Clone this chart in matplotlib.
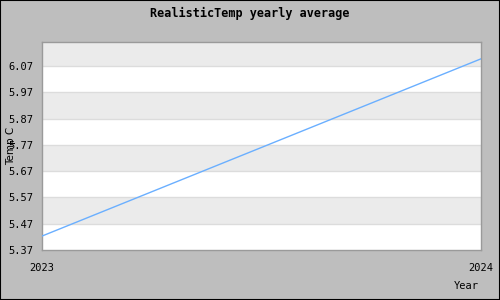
import matplotlib
matplotlib.use("Agg")
import matplotlib.pyplot as plt
from matplotlib.patches import Rectangle

years = [2023, 2024]
temps = [5.423, 6.097]
yticks = [5.37, 5.47, 5.57, 5.67, 5.77, 5.87, 5.97, 6.07]
title = "RealisticTemp yearly average"

W, H = 500, 300
fig = plt.figure(figsize=(5, 3), dpi=100, facecolor="#bebebe")
fig.patches.append(Rectangle((0, 0), 1, 1, transform=fig.transFigure,
                             fill=False, edgecolor="black", linewidth=1.5))

left, right, top, bottom = 42, 481, 42, 250
ax = fig.add_axes([left / W, 1 - bottom / H, (right - left) / W, (bottom - top) / H])
ax.set_facecolor("white")
ymin, ymax = 5.37, 6.161
ax.set_xlim(years[0], years[1])
ax.set_ylim(ymin, ymax)

# alternating bands
edges = yticks + [ymax]
for i in range(len(edges) - 1):
    if i % 2 == 1:
        ax.axhspan(edges[i], edges[i + 1], color="#ebebeb", zorder=0, lw=0)
for y in yticks[1:]:
    ax.axhline(y, color="#dcdcdc", lw=1, zorder=1)

ax.plot(years, temps, color="#6aafff", lw=1, zorder=3)

for s in ax.spines.values():
    s.set_color("#9a9a9a")
    s.set_linewidth(1)

ax.set_yticks(yticks)
ax.set_yticklabels([f"{v:.2f}" for v in yticks])
ax.set_xticks(years)
ax.set_xticklabels([str(y) for y in years])
ax.tick_params(length=0, labelsize=7.5, colors="black")
ax.tick_params(axis="y", pad=6.5)
ax.tick_params(axis="x", pad=9.5)
for lab in ax.get_xticklabels() + ax.get_yticklabels():
    lab.set_family("DejaVu Sans Mono")

fig.text(250 / W, 1 - 13 / H, title, ha="center", va="center",
         family="DejaVu Sans Mono", fontweight="bold", fontsize=8.5)
fig.text(479 / W, 1 - 286 / H, "Year", ha="right", va="center",
         family="DejaVu Sans Mono", fontsize=7.5)
fig.text(11 / W, 1 - 146 / H, "Temp C", ha="center", va="center", rotation=90,
         family="DejaVu Sans", fontsize=7.5)

fig.savefig("out.png", dpi=100, facecolor=fig.get_facecolor())
